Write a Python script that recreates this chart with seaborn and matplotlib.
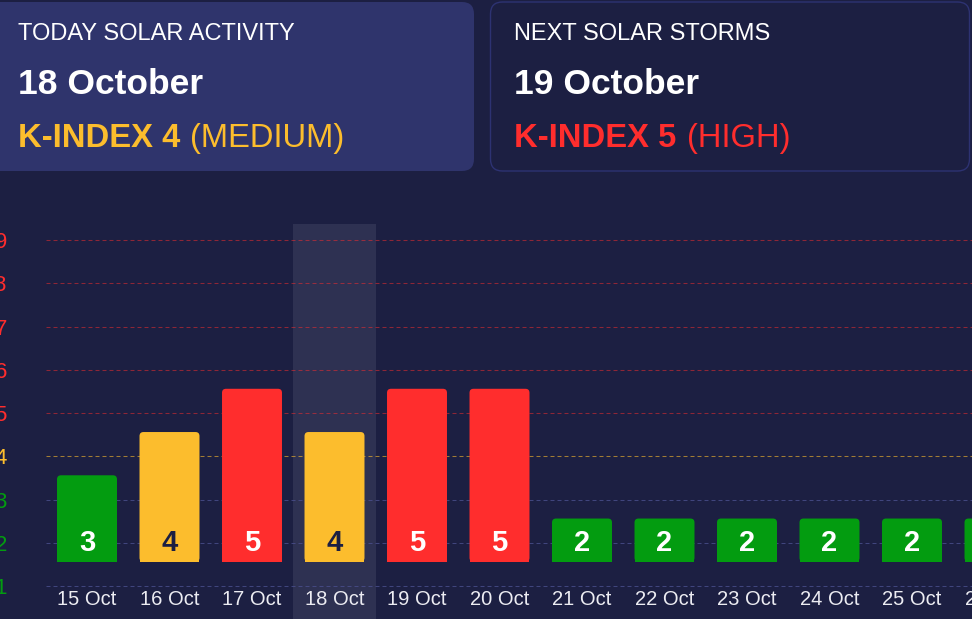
import matplotlib
matplotlib.use("Agg")
import matplotlib.pyplot as plt
import pandas as pd
import seaborn as sns
from matplotlib.patches import FancyBboxPatch, Rectangle

# ---- data ----
dates = ["15 Oct", "16 Oct", "17 Oct", "18 Oct", "19 Oct", "20 Oct",
         "21 Oct", "22 Oct", "23 Oct", "24 Oct", "25 Oct", "26 Oct"]
kindex = [3, 4, 5, 4, 5, 5, 2, 2, 2, 2, 2, 2]
levels = [1, 2, 3, 4, 5, 6, 7, 8, 9]
today_idx = 3

today_title = "TODAY SOLAR ACTIVITY"
today_date = "18 October"
today_k = "K-INDEX 4"
today_level = "(MEDIUM)"
next_title = "NEXT SOLAR STORMS"
next_date = "19 October"
next_k = "K-INDEX 5"
next_level = "(HIGH)"

# ---- style ----
BG = "#1c1f42"
CARD = "#2f346c"
CARD_EDGE = "#2d3272"
BAND = "#2e3152"
GREEN = "#039c10"
YELLOW = "#fcbd2d"
RED = "#ff2d2d"
TEXT = "#ececf2"


def level_color(k):
    if k <= 3:
        return GREEN
    if k == 4:
        return YELLOW
    return RED


W, H = 972, 619
BASE = 1.56          # bars start a little above the level-1 line
PX_X = 82.5          # pixels per category
PX_Y = 43.25         # pixels per K level

sns.set_theme(style="dark")
plt.rcParams["font.family"] = ["Liberation Sans", "DejaVu Sans"]

fig = plt.figure(figsize=(W / 100, H / 100), dpi=100, facecolor=BG)


def fx(px):
    return px / W


def fy(py):
    return 1 - py / H


# ---- header cards ----
fig_aspect = W / H
fig.add_artist(FancyBboxPatch((fx(-12), fy(171)), fx(486), fy(2) - fy(171),
                              boxstyle=f"round,pad=0,rounding_size={12 / W}",
                              mutation_aspect=fig_aspect, transform=fig.transFigure,
                              fc=CARD, ec="none", zorder=0))
fig.add_artist(FancyBboxPatch((fx(490.5), fy(171)), fx(479), fy(2) - fy(171),
                              boxstyle=f"round,pad=0,rounding_size={12 / W}",
                              mutation_aspect=fig_aspect, transform=fig.transFigure,
                              fc=BG, ec=CARD_EDGE, lw=1.0, zorder=0))

for x0, title, date, ktxt, ltxt, col, lx in [
        (18, today_title, today_date, today_k, today_level, YELLOW, 190),
        (514, next_title, next_date, next_k, next_level, RED, 687)]:
    fig.text(fx(x0), fy(40), title, color="white", fontsize=17, va="baseline")
    fig.text(fx(x0), fy(94), date, color="white", fontsize=25.5,
             fontweight="bold", va="baseline")
    fig.text(fx(x0), fy(147), ktxt, color=col, fontsize=23.6,
             fontweight="bold", va="baseline")
    fig.text(fx(lx), fy(147), ltxt, color=col, fontsize=23.6, va="baseline")

# ---- chart ----
ax_l, ax_r = 45.75, 45.75 + PX_X * 12
ax = fig.add_axes([fx(ax_l), 0, (ax_r - ax_l) / W, 1 - 224 / H])
ax.set_facecolor(BG)

df = pd.DataFrame({"date": dates, "kindex": kindex})
df["height"] = df["kindex"] - 1.0
palette = [level_color(k) for k in kindex]

sns.barplot(data=df, x="date", y="height", hue="date", palette=palette,
            width=0.727, saturation=1, legend=False, ax=ax)

# lift each bar onto the base line and round its top corners
rx = 4 / PX_X
aspect = PX_X / PX_Y
for p in list(ax.patches):
    x, w, h = p.get_x(), p.get_width(), p.get_height()
    fc = p.get_facecolor()
    p.remove()
    ax.add_patch(FancyBboxPatch((x, BASE), w, h,
                                boxstyle=f"round,pad=0,rounding_size={rx}",
                                mutation_aspect=aspect, fc=fc, ec="none", zorder=2))
    ax.add_patch(Rectangle((x, BASE), w, h / 2, fc=fc, ec="none", zorder=2))

# value labels inside the bars
for i, k in enumerate(kindex):
    ax.text(i, 2.0, str(k), ha="center", va="center", fontsize=21,
            fontweight="bold", color=BG if k == 4 else "white", zorder=3)

# highlight for today
ax.axvspan(today_idx - 0.5, today_idx + 0.5, color=BAND, lw=0, zorder=0.5)

# dashed level lines
for k in levels:
    if k >= 5:
        col, a = RED, 0.5
    elif k == 4:
        col, a = YELLOW, 0.6
    else:
        col, a = "#4a4f8c", 0.8
    ax.axhline(k, color=col, alpha=a, lw=0.75, ls=(0, (3.84, 2.88)), zorder=1)

ax.set_xlim(-0.5, 11.5)
ax.set_ylim(0.237, 9.37)
ax.set_xlabel("")
ax.set_ylabel("")
for s in ax.spines.values():
    s.set_visible(False)

ax.set_yticks(levels)
ax.set_yticklabels([str(k) for k in levels])
ax.tick_params(axis="y", length=0, pad=28, labelsize=16)
for lbl, k in zip(ax.get_yticklabels(), levels):
    lbl.set_color(level_color(k))

ax.set_xticks(range(len(dates)))
ax.set_xticklabels(dates)
ax.tick_params(axis="x", length=0, pad=-13.7, labelsize=14.5, labelcolor=TEXT)
for lbl in ax.get_xticklabels():
    lbl.set_verticalalignment("center")
ax.set_axisbelow(False)
ax.xaxis.set_zorder(2.5)

fig.savefig("out.png", dpi=100, facecolor=BG)
